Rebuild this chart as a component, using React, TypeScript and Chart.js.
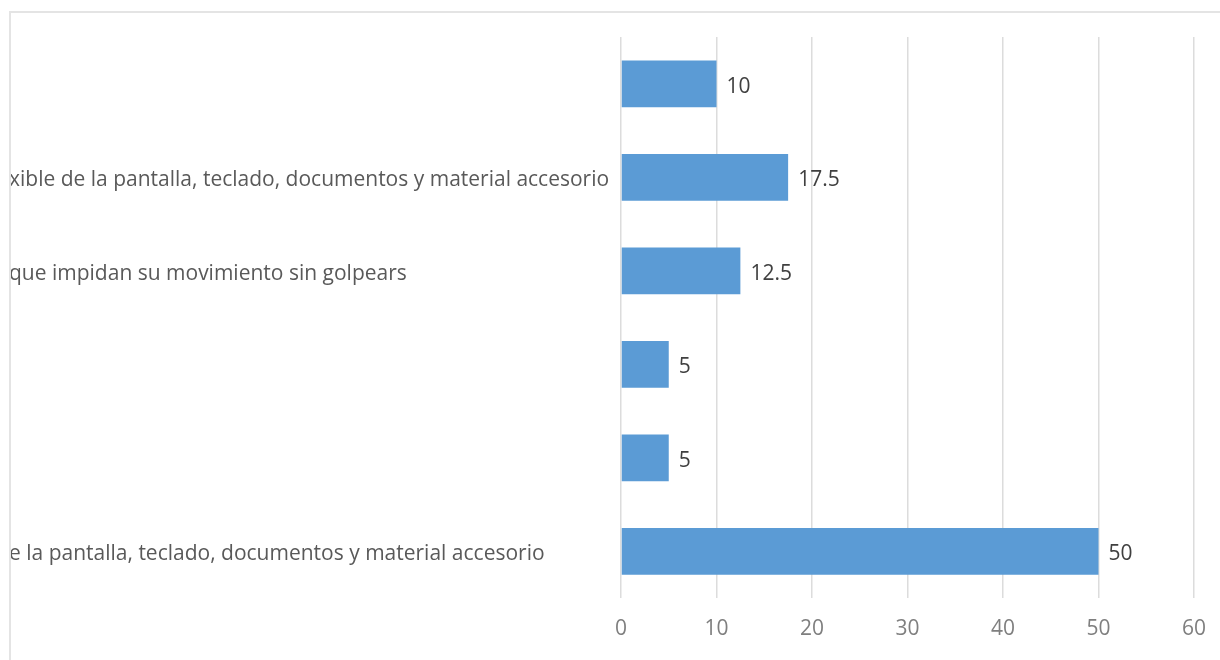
import React, { useEffect, useRef } from "react";
import { Chart, registerables } from "chart.js";

Chart.register(...registerables);

const categories: string[] = [
  "",
  "xible de la pantalla, teclado, documentos y material accesorio",
  "que impidan su movimiento sin golpears",
  "",
  "",
  "e la pantalla, teclado, documentos y material accesorio",
];
const values: number[] = [10, 17.5, 12.5, 5, 5, 50];
const xMin = 0;
const xMax = 60;
const xStep = 10;

const FONT = "'Open Sans'";
const FS = 21;

const extraText = {
  id: "extraText",
  afterDatasetsDraw(chart: any) {
    const ctx = chart.ctx;
    const meta = chart.getDatasetMeta(0);
    const yScale = chart.scales.y;
    ctx.save();
    ctx.font = `${FS}px ${FONT}`;
    ctx.textAlign = "left";
    ctx.textBaseline = "middle";
    ctx.fillStyle = "#404040";
    meta.data.forEach((bar: any, i: number) => {
      ctx.fillText(String(values[i]), bar.x + 10, bar.y + 3);
    });
    ctx.fillStyle = "#595959";
    categories.forEach((label, i) => {
      if (!label) return;
      ctx.fillText(label, yScale.left, yScale.getPixelForTick(i) + 3);
    });
    ctx.restore();
  },
};

export default function App() {
  const ref = useRef<HTMLCanvasElement | null>(null);
  useEffect(() => {
    if (!ref.current) return;
    const chart = new Chart(ref.current, {
      type: "bar",
      data: {
        labels: categories,
        datasets: [
          {
            data: values,
            backgroundColor: "#5B9BD5",
            borderWidth: 0,
            barPercentage: 0.5,
            categoryPercentage: 1,
          },
        ],
      },
      options: {
        indexAxis: "y",
        animation: false,
        responsive: false,
        maintainAspectRatio: false,
        layout: { padding: { left: 9, right: 26, top: 37, bottom: 0 } },
        plugins: { legend: { display: false }, tooltip: { enabled: false } },
        scales: {
          x: {
            min: xMin,
            max: xMax,
            ticks: {
              stepSize: xStep,
              color: "#7f7f7f",
              font: { family: FONT, size: FS },
              padding: 18,
            },
            grid: { color: "#dcdcdc", lineWidth: 1.5, drawTicks: false },
            border: { display: false },
            afterFit: (s: any) => {
              s.height = 62;
              s.paddingRight = 0;
              s.paddingLeft = 0;
            },
          },
          y: {
            ticks: { display: false },
            grid: { display: false },
            border: { display: false },
            afterFit: (s: any) => {
              s.width = 612;
              s.paddingTop = 0;
              s.paddingBottom = 0;
            },
          },
        },
      },
      plugins: [extraText],
    });
    return () => chart.destroy();
  }, []);

  return (
    <div
      style={{
        position: "fixed",
        left: 0,
        top: 0,
        width: 1220,
        height: 660,
        overflow: "hidden",
        background: "#ffffff",
      }}
    >
      <canvas
        ref={ref}
        width={1220}
        height={660}
        style={{ position: "absolute", left: 0, top: 0, width: 1220, height: 660 }}
      />
      <div
        style={{
          position: "absolute",
          left: 9,
          top: 11,
          width: 1400,
          height: 1000,
          borderTop: "2px solid #e4e4e4",
          borderLeft: "2px solid #e4e4e4",
          pointerEvents: "none",
        }}
      />
    </div>
  );
}
